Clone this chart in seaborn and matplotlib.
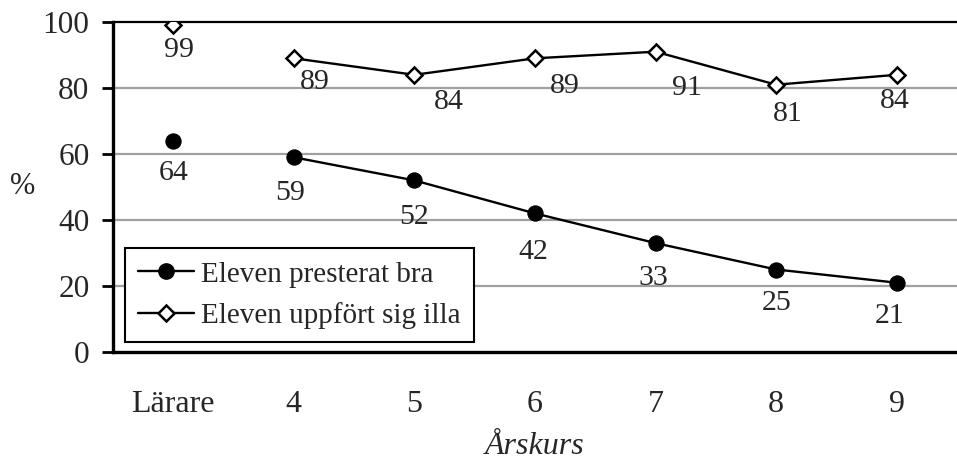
import pandas as pd
import matplotlib
matplotlib.use("Agg")
import matplotlib.pyplot as plt
import seaborn as sns
from matplotlib.lines import Line2D

# ---------------------------------------------------
# Daten
# ---------------------------------------------------
categories = ["Lärare", "4", "5", "6", "7", "8", "9"]
presterat_bra = [64, 59, 52, 42, 33, 25, 21]
uppfort_illa = [99, 89, 84, 89, 91, 81, 84]

# label offsets (pixels) relative to each marker
off_bra = [(0, -32), (-4, -36), (0, -37), (-2, -39), (-2, -35), (0, -33), (-7, -33)]
off_illa = [(6, -25), (21, -24), (34, -27), (30, -28), (31, -36), (12, -29), (-2, -26)]

pos = list(range(len(categories)))
df = pd.DataFrame({
    "pos": pos * 2,
    "value": presterat_bra + uppfort_illa,
    "serie": ["Eleven presterat bra"] * len(pos) + ["Eleven uppfört sig illa"] * len(pos),
})
df["teacher"] = df["pos"] == 0

sns.set_style("white")
plt.rcParams["font.family"] = ["Liberation Serif", "DejaVu Serif"]
plt.rcParams["font.size"] = 22

fig = plt.figure(figsize=(9.57, 4.63), dpi=100)
ax = fig.add_axes([113 / 957, 1 - 352 / 463, (957 - 113) / 957, 330 / 463])

# grid
for v in [20, 40, 60, 80]:
    ax.axhline(v, color="#a0a0a0", lw=1.6, zorder=0)

styles = {
    "Eleven presterat bra": dict(marker="o", markersize=11, markerfacecolor="black",
                                 markeredgecolor="black"),
    "Eleven uppfört sig illa": dict(marker="D", markersize=8.5, markerfacecolor="white",
                                    markeredgecolor="black", markeredgewidth=1.8),
}

for serie, st in styles.items():
    sub = df[(df["serie"] == serie) & (~df["teacher"])]
    sns.lineplot(data=sub, x="pos", y="value", ax=ax, color="black", lw=1.7,
                 legend=False, zorder=3, **st)
    t = df[(df["serie"] == serie) & (df["teacher"])]
    sns.lineplot(data=t, x="pos", y="value", ax=ax, color="black", lw=0,
                 legend=False, zorder=3, **st)

# data labels
for vals, offs in [(presterat_bra, off_bra), (uppfort_illa, off_illa)]:
    for x, v, (dx, dy) in zip(pos, vals, offs):
        ax.annotate(str(v), (x, v), xytext=(dx, dy), textcoords="offset pixels",
                    ha="center", va="center", fontsize=21.5, zorder=4)

ax.set_xlim(-0.5, -0.5 + 844 / 122)
ax.set_ylim(0, 100)
ax.set_yticks([0, 20, 40, 60, 80, 100])
ax.set_xticks(pos)
ax.set_xticklabels(categories)
ax.set_xticks([p + 0.5 for p in [-1] + pos], minor=True)
ax.tick_params(axis="x", which="major", length=0, pad=27, labelsize=23)
ax.tick_params(axis="x", which="minor", length=8, width=2, direction="out", color="black")
ax.tick_params(axis="y", length=8, width=2, direction="out", pad=9, labelsize=22.5, color="black",
               left=True)

for s in ["left", "bottom"]:
    ax.spines[s].set_linewidth(2.4)
    ax.spines[s].set_color("black")
ax.spines["top"].set_linewidth(1.6)
ax.spines["top"].set_color("black")
ax.spines["right"].set_visible(False)

ax.set_xlabel("Årskurs", fontstyle="italic", fontsize=23, labelpad=10)
ax.set_ylabel("%", rotation=0, fontsize=22, va="center", ha="center")
ax.yaxis.set_label_coords(-0.107, 0.5)

handles = [Line2D([], [], color="black", lw=1.7, **st) for st in styles.values()]
leg = fig.legend(handles, list(styles.keys()), loc="upper left",
                 bbox_to_anchor=(125 / 957, 1 - 248 / 463), bbox_transform=fig.transFigure,
                 frameon=True, fancybox=False, edgecolor="black", framealpha=1,
                 borderaxespad=0, borderpad=0.45, handlelength=1.9, handletextpad=0.25,
                 labelspacing=0.5, fontsize=21)
leg.get_frame().set_linewidth(1.5)

fig.savefig("out.png", dpi=100)
